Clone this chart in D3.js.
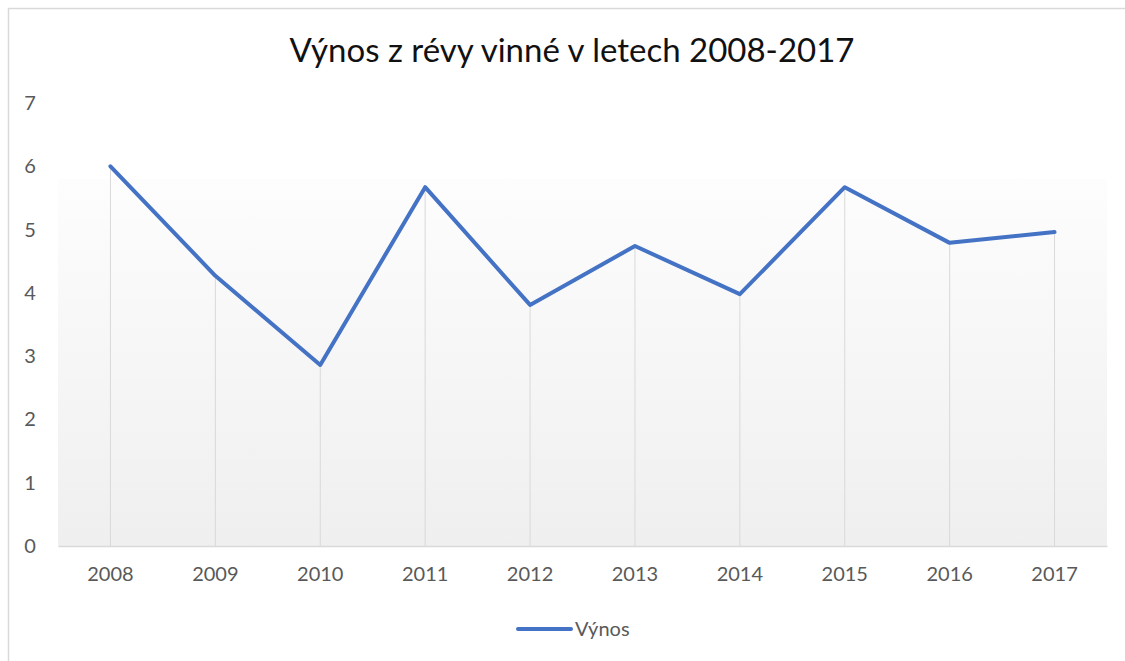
<!DOCTYPE html>
<html>
<head>
<meta charset="utf-8">
<script src="https://cdn.jsdelivr.net/npm/d3@7"></script>
<style>
  body { margin: 0; background: #fff; }
  svg { display: block; font-family: Lato, "Open Sans", sans-serif; }
</style>
</head>
<body>
<div id="chart"></div>
<script>
// data
const years = ['2008', '2009', '2010', '2011', '2012', '2013', '2014', '2015', '2016', '2017'];
const vynos = [6.0, 4.27, 2.86, 5.67, 3.81, 4.74, 3.98, 5.67, 4.79, 4.96];
const yTicks = [0, 1, 2, 3, 4, 5, 6, 7];
const seriesName = 'Výnos';
const title = 'Výnos z révy vinné v letech 2008-2017';

const width = 1125, height = 661;
const plotLeft = 58, plotRight = 1107, plotTop = 103, plotBottom = 546;

const svg = d3.select('#chart').append('svg')
    .attr('width', width)
    .attr('height', height);

// chart border
svg.append('rect')
    .attr('x', 8.5).attr('y', 8.5)
    .attr('width', width).attr('height', height)
    .attr('fill', '#fff')
    .attr('stroke', '#d9d9d9')
    .attr('stroke-width', 1.5);

const x = d3.scaleBand().domain(years).range([plotLeft, plotRight]);
const y = d3.scaleLinear().domain([0, 7]).range([plotBottom, plotTop]);

// plot area gradient
const grad = svg.append('defs').append('linearGradient')
    .attr('id', 'bg').attr('x1', 0).attr('y1', 0).attr('x2', 0).attr('y2', 1);
grad.append('stop').attr('offset', '0%').attr('stop-color', '#fdfdfd');
grad.append('stop').attr('offset', '100%').attr('stop-color', '#efefef');

svg.append('rect')
    .attr('x', plotLeft).attr('y', y(5.8))
    .attr('width', plotRight - plotLeft).attr('height', y(0) - y(5.8))
    .attr('fill', 'url(#bg)');

// title
svg.append('text')
    .attr('x', 572).attr('y', 62)
    .attr('text-anchor', 'middle')
    .attr('font-size', 33)
    .attr('fill', '#111')
    .text(title);

// y labels (no axis line)
svg.append('g').selectAll('text')
    .data(yTicks)
  .enter().append('text')
    .attr('x', 30)
    .attr('y', d => y(d))
    .attr('dy', '0.35em')
    .attr('text-anchor', 'middle')
    .attr('font-size', 20)
    .attr('fill', '#595959')
    .text(d => d);

// drop lines
svg.append('g').selectAll('line')
    .data(vynos)
  .enter().append('line')
    .attr('x1', (d, i) => x(years[i]) + x.bandwidth() / 2)
    .attr('x2', (d, i) => x(years[i]) + x.bandwidth() / 2)
    .attr('y1', d => y(d))
    .attr('y2', y(0))
    .attr('stroke', '#d9d9d9')
    .attr('stroke-width', 1);

// x axis
const xAxis = svg.append('g')
    .attr('transform', 'translate(0,' + y(0) + ')')
    .call(d3.axisBottom(x).tickSize(0).tickPadding(21));
xAxis.select('.domain').attr('stroke', '#d9d9d9').attr('stroke-width', 1.5);
xAxis.selectAll('text')
    .attr('font-size', 20)
    .attr('font-family', 'Lato, "Open Sans", sans-serif')
    .attr('fill', '#595959');

// line
const line = d3.line()
    .x((d, i) => x(years[i]) + x.bandwidth() / 2)
    .y(d => y(d));

svg.append('path')
    .datum(vynos)
    .attr('d', line)
    .attr('fill', 'none')
    .attr('stroke', '#4472c4')
    .attr('stroke-width', 4)
    .attr('stroke-linejoin', 'round')
    .attr('stroke-linecap', 'round');

// legend
const lg = svg.append('g').attr('transform', 'translate(518,629)');
lg.append('line')
    .attr('x1', 0).attr('x2', 53)
    .attr('stroke', '#4472c4').attr('stroke-width', 4)
    .attr('stroke-linecap', 'round');
lg.append('text')
    .attr('x', 57).attr('dy', '0.35em')
    .attr('font-size', 20)
    .attr('fill', '#595959')
    .text(seriesName);
</script>
</body>
</html>
